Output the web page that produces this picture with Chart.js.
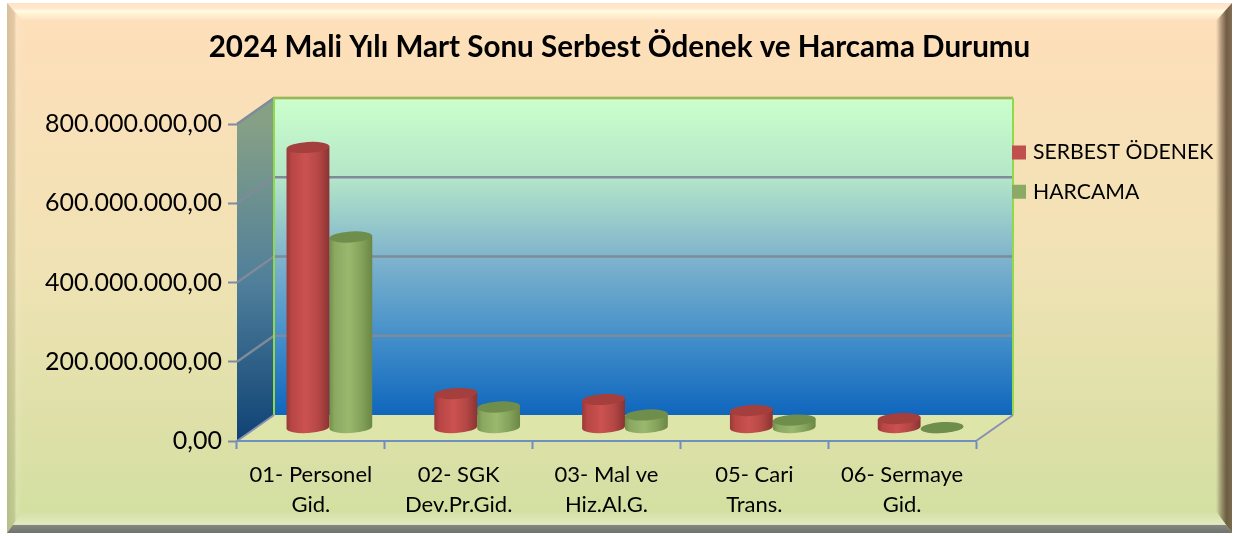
<!DOCTYPE html>
<html lang="tr">
<head>
<meta charset="utf-8">
<title>2024 Mali Yılı Mart Sonu Serbest Ödenek ve Harcama Durumu</title>
<script src="https://cdn.jsdelivr.net/npm/chart.js@4"></script>
<style>
  html, body { margin: 0; padding: 0; background: #fff; }
  canvas { display: block; }
</style>
</head>
<body>
<canvas id="chart" width="1239" height="536"></canvas>
<script>
const categories = [
  ["01- Personel", "Gid."],
  ["02- SGK", "Dev.Pr.Gid."],
  ["03- Mal ve", "Hiz.Al.G."],
  ["05- Cari", "Trans."],
  ["06- Sermaye", "Gid."],
];
const serbestOdenek = [708000000, 87000000, 72000000, 44000000, 24000000];
const harcama = [482000000, 53000000, 33000000, 20000000, 1000000];
const seriesNames = ["SERBEST ÖDENEK", "HARCAMA"];
const titleText = "2024 Mali Yılı Mart Sonu Serbest Ödenek ve Harcama Durumu";

//depth of the fake 3d box, in pixels
const depthX = 37;
const depthY = -26;

//gradient stops of the cylinder bodies, last one is the cap
const cylinderColors = [
  ["#98393a", "#b84644", "#cb5250", "#b44745", "#8a3332", "#a53f3d"],
  ["#72904a", "#8aa860", "#9ab86e", "#84a25a", "#6a8844", "#6f8d4b"],
];
const cylinderStops = [0, 0.12, 0.45, 0.75, 1];

//number format of the y axis, 800.000.000,00
const formatTick = (value) =>
  String(value).replace(/\B(?=(\d{3})+$)/g, ".") + ",00";

//frame, walls and floor, drawn before the axes
const backgroundPlugin = {
  id: "background",
  beforeDraw(chart) {
    const { ctx, chartArea: area, scales } = chart;
    const L = 7, T = 3, R = 1232, B = 533, bevel = 16;
    ctx.save();

    //chart background
    let g = ctx.createLinearGradient(0, T, 0, B);
    g.addColorStop(0, "#ffdfbb");
    g.addColorStop(0.5, "#f0e2b4");
    g.addColorStop(1, "#d1dfa0");
    ctx.fillStyle = g;
    ctx.fillRect(L, T, R - L, B - T);

    //bevel on the four sides
    const side = (points, x0, y0, x1, y1, stops) => {
      const grad = ctx.createLinearGradient(x0, y0, x1, y1);
      stops.forEach((s) => grad.addColorStop(s[0], s[1]));
      ctx.fillStyle = grad;
      ctx.beginPath();
      points.forEach((p, i) => (i ? ctx.lineTo(p[0], p[1]) : ctx.moveTo(p[0], p[1])));
      ctx.closePath();
      ctx.fill();
    };
    side([[L, T], [L + bevel, T + bevel + 2], [L + bevel, B - bevel - 6], [L, B]], L, 0, L + bevel, 0, [
      [0, "rgba(60,60,30,.2)"], [0.45, "rgba(60,60,30,.13)"],
      [0.6, "rgba(255,255,255,.1)"], [1, "rgba(255,255,255,0)"],
    ]);
    side([[L, T], [R, T], [R - bevel, T + bevel + 2], [L + bevel, T + bevel + 2]], 0, T, 0, T + bevel + 2, [
      [0, "rgba(255,255,255,.15)"], [0.3, "rgba(255,255,255,.3)"],
      [0.45, "rgba(255,255,225,.9)"], [0.7, "rgba(255,255,225,.5)"], [1, "rgba(255,255,255,0)"],
    ]);
    side([[R, T], [R, B], [R - bevel, B - bevel - 6], [R - bevel, T + bevel + 2]], R - bevel, 0, R, 0, [
      [0, "rgba(90,70,50,0)"], [0.35, "rgba(90,70,50,.5)"], [0.65, "rgba(90,70,50,.85)"], [1, "rgba(90,70,50,.75)"],
    ]);
    side([[L, B], [R, B], [R - bevel, B - bevel - 6], [L + bevel, B - bevel - 6]], 0, B - bevel - 6, 0, B, [
      [0, "rgba(255,255,255,0)"], [0.6, "rgba(255,255,255,.35)"], [0.66, "rgba(130,135,125,1)"], [1, "rgba(110,115,112,1)"],
    ]);

    const bl = area.left, br = area.right, bt = area.top, bb = area.bottom;
    const wl = bl + depthX, wr = br + depthX, wt = bt + depthY, wb = bb + depthY;

    //side wall
    g = ctx.createLinearGradient(0, bt, 0, bb);
    g.addColorStop(0, "#86a086");
    g.addColorStop(0.5, "#4f7f9a");
    g.addColorStop(1, "#0f4275");
    ctx.fillStyle = g;
    ctx.beginPath();
    ctx.moveTo(bl, bt);
    ctx.lineTo(wl, wt);
    ctx.lineTo(wl, wb);
    ctx.lineTo(bl, bb);
    ctx.closePath();
    ctx.fill();

    //back wall
    g = ctx.createLinearGradient(0, wt, 0, wb);
    g.addColorStop(0, "#ccffcc");
    g.addColorStop(0.25, "#b4e6c8");
    g.addColorStop(0.5, "#80b4cc");
    g.addColorStop(0.75, "#4590ca");
    g.addColorStop(1, "#0f66bd");
    ctx.fillStyle = g;
    ctx.fillRect(wl, wt, wr - wl, wb - wt);

    //floor
    ctx.fillStyle = "#dde5a8";
    ctx.beginPath();
    ctx.moveTo(bl, bb);
    ctx.lineTo(br, bb);
    ctx.lineTo(wr, wb);
    ctx.lineTo(wl, wb);
    ctx.closePath();
    ctx.fill();

    //gridlines go along the side wall and across the back wall
    ctx.lineWidth = 2.5;
    ctx.strokeStyle = "#7f8a9a";
    scales.y.ticks.forEach((t) => {
      if (t.value === 0) return;
      const y = scales.y.getPixelForValue(t.value);
      ctx.beginPath();
      ctx.moveTo(bl, y);
      ctx.lineTo(wl, y + depthY);
      ctx.lineTo(wr, y + depthY);
      ctx.stroke();
    });

    //wall edges
    ctx.lineWidth = 2;
    ctx.strokeStyle = "#9bbb3f";
    ctx.beginPath();
    ctx.moveTo(wl, wt);
    ctx.lineTo(wr, wt);
    ctx.stroke();
    ctx.strokeStyle = "#92d94a";
    ctx.beginPath();
    ctx.moveTo(wl, wb);
    ctx.lineTo(wl, wt);
    ctx.moveTo(wr, wt);
    ctx.lineTo(wr, wb);
    ctx.stroke();

    //floor edges
    ctx.strokeStyle = "#8a90b0";
    ctx.beginPath();
    ctx.moveTo(bl, bb);
    ctx.lineTo(wl, wb);
    ctx.moveTo(br, bb);
    ctx.lineTo(wr, wb);
    ctx.stroke();
    ctx.restore();
  },
  //legend sits over the edge of the back wall, title is centered on the whole canvas
  afterLayout(chart) {
    const lg = chart.legend;
    lg.left = 997.5;
    lg.top = 124;
    lg.right = lg.left + 230;
    lg.bottom = lg.top + 110;
    lg.width = 230;
    lg.height = 110;
    const title = chart.titleBlock;
    title.left = 0;
    title.right = chart.width;
    title.width = chart.width;
  },
  //draw each bar as a cylinder instead of a flat box
  beforeDatasetDraw(chart, args) {
    const { ctx } = chart;
    const colors = cylinderColors[args.index];
    const ry = 5.5;
    const tilt = -0.06;
    ctx.save();
    args.meta.data.forEach((bar) => {
      const p = bar.getProps(["x", "y", "base", "width"], true);
      const cx = p.x + depthX / 2;
      const rx = p.width / 2;
      const top = p.y + depthY / 2;
      const bottom = p.base + depthY / 2;
      const lift = -rx * Math.sin(tilt);
      const g = ctx.createLinearGradient(cx - rx, 0, cx + rx, 0);
      cylinderStops.forEach((s, i) => g.addColorStop(s, colors[i]));
      ctx.fillStyle = g;
      ctx.beginPath();
      ctx.moveTo(cx - rx, top + lift);
      ctx.lineTo(cx - rx, bottom + lift);
      ctx.ellipse(cx, bottom, rx, ry, tilt, Math.PI, 0, true);
      ctx.lineTo(cx + rx, top - lift);
      ctx.closePath();
      ctx.fill();
      ctx.fillStyle = colors[5];
      ctx.beginPath();
      ctx.ellipse(cx, top, rx, ry, tilt, 0, Math.PI * 2);
      ctx.fill();
    });
    ctx.restore();
    return false;
  },
};

new Chart(document.getElementById("chart"), {
  type: "bar",
  plugins: [backgroundPlugin],
  data: {
    labels: categories,
    datasets: [
      //the border fattens the small legend box, bars themselves are cylinders
      { label: seriesNames[0], data: serbestOdenek, backgroundColor: "#c0504d", borderColor: "#c0504d", borderWidth: 7 },
      { label: seriesNames[1], data: harcama, backgroundColor: "#8aaa65", borderColor: "#8aaa65", borderWidth: 7 },
    ],
  },
  options: {
    responsive: false,
    animation: false,
    categoryPercentage: 0.58,
    barPercentage: 1,
    layout: { padding: { left: 0, right: 263, top: 20, bottom: 0 } },
    plugins: {
      tooltip: { enabled: false },
      title: {
        display: true,
        text: titleText,
        color: "#000",
        font: { family: "Lato", size: 29.6, weight: "bold", lineHeight: 1.2 },
        padding: { top: 9.5, bottom: 59 },
      },
      legend: {
        position: "chartArea",
        align: "start",
        labels: {
          color: "#000",
          font: { family: "Lato", size: 21.2 },
          boxWidth: 7,
          boxHeight: 7,
          padding: 18,
        },
      },
    },
    scales: {
      x: {
        afterFit: (s) => { s.height = 95; },
        grid: {
          drawOnChartArea: false,
          tickLength: 8,
          tickWidth: 2,
          tickColor: "#6e8fc0",
        },
        border: { color: "#6e8fc0", width: 2 },
        ticks: {
          color: "#000",
          padding: 11,
          maxRotation: 0,
          font: { family: "Lato", size: 22, lineHeight: 1.36 },
        },
      },
      y: {
        min: 0,
        max: 800000000,
        afterFit: (s) => { s.width = 237; },
        grid: {
          drawOnChartArea: false,
          tickLength: 9,
          tickWidth: 2,
          tickColor: "#7f8ba0",
        },
        border: { display: false },
        ticks: {
          stepSize: 200000000,
          color: "#000",
          padding: 6,
          font: { family: "Lato", size: 25 },
          callback: formatTick,
        },
      },
    },
  },
});
</script>
</body>
</html>
